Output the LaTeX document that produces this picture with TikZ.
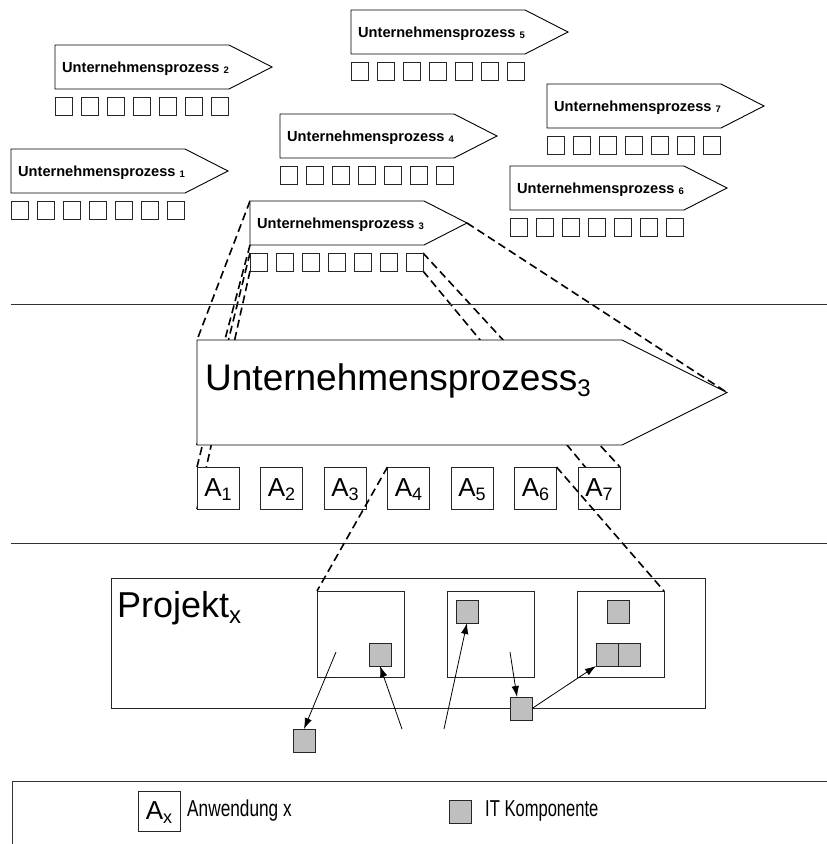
\documentclass[tikz,border=0pt]{standalone}
\usepackage{fontspec}
\setmainfont{Liberation Sans}
\usetikzlibrary{arrows.meta,calc,backgrounds}
\tikzset{
  outl/.style={draw=black, line width=0.9pt},
  sepline/.style={draw=black!80, line width=0.9pt},
  dsh/.style={draw=black, line width=1.6pt, dash pattern=on 8pt off 4.5pt},
  sq/.style={draw=black!85, line width=0.8pt, fill=white, minimum width=17pt, minimum height=18pt, inner sep=0pt, outer sep=0pt, anchor=north west},
  abox/.style={draw=black!85, line width=0.8pt, fill=white, minimum width=42pt, minimum height=42pt, inner sep=0pt, outer sep=0pt, anchor=north west, text depth=0pt},
  itc/.style={draw=black!85, line width=0.8pt, fill=black!25, minimum width=22pt, minimum height=23pt, inner sep=0pt, outer sep=0pt, anchor=north west},
  ibox/.style={draw=black!85, line width=0.8pt, fill=white, minimum width=87pt, minimum height=86pt, inner sep=0pt, outer sep=0pt, anchor=north west},
  arr/.style={-{Latex[length=11pt,width=7.5pt]}, line width=0.8pt},
  smlab/.style={font=\fontsize{14.6}{16}\selectfont\bfseries, inner sep=0pt, anchor=base west},
  txt/.style={inner sep=0pt, anchor=base west},
}
\newcommand\upro[4]{%
  \draw[outl, fill=white] (#2,#3) coordinate (#1tl) -- ++(174,0) coordinate (#1tr)
     -- ++(43,22) coordinate (#1tip) -- ++(-43,22) coordinate (#1br)
     -- ++(-174,0) coordinate (#1bl) -- cycle;
  \node[smlab] (#1lab) at (#2+7,#3+27) {Unternehmensprozess\hspace{4pt}\raisebox{-1.5pt}{\fontsize{9.5}{10}\selectfont #4}};
  \foreach \i in {0,...,6} {\node[sq] (#1s\i) at (#2+\i*26,#3+52) {};}
}
\newcommand\alab[2]{{\fontsize{26}{26}\selectfont #1}\raisebox{-4pt}[0pt][0pt]{\fontsize{18}{18}\selectfont #2}}
\begin{document}
\begin{tikzpicture}[x=1pt,y=-1pt]
\useasboundingbox (0,0) rectangle (827,844);

% small processes
\upro{P1}{11}{149}{1}
\upro{P2}{55}{45}{2}
\upro{P4}{280}{114}{4}
\upro{P5}{351}{10}{5}
\upro{P7}{547}{84}{7}
\upro{P6}{510}{166}{6}
\upro{P3}{250}{201}{3}

% separator lines
\draw[sepline] (11,304) coordinate (h1a) -- (827,304) coordinate (h1b);
\draw[sepline] (11,543) coordinate (h2a) -- (827,543) coordinate (h2b);

% big process
\draw[outl, fill=white] (197,340) coordinate (Btl) -- (622,340) coordinate (Btr)
   -- (727,392.5) coordinate (Btip) -- (622,445) coordinate (Bbr) -- (197,445) coordinate (Bbl) -- cycle;
\node[txt] (Blab) at (205,390) {\fontsize{37}{40}\selectfont Unternehmensprozess\raisebox{-6pt}{\fontsize{24}{24}\selectfont 3}};

% applications
\foreach \i in {1,...,7} {
  \node[abox] (A\i) at (197+\i*63.5-63.5,467) {\alab{A}{\i}};
}

% mapping lines (behind)
\begin{pgfonlayer}{background}
\draw[dsh] (P3tl) -- (Btl);
\draw[dsh] (P3bl) -- (Bbl);
\draw[dsh] (P3tip) -- (Btip);
\draw[dsh] (P3s0.north west) -- (A1.north west);
\draw[dsh] (P3s0.south west) -- (A1.south west);
\draw[dsh] (P3s6.north east) -- (A7.north east);
\draw[dsh] (P3s6.south east) -- (A7.south east);
\end{pgfonlayer}

% project
\node[draw=black!85, line width=0.8pt, minimum width=594pt, minimum height=130pt, inner sep=0pt, anchor=north west] (Proj) at (111,578) {};
\node[txt] (Plab) at (117,617) {\fontsize{36}{38}\selectfont Projekt\raisebox{-6pt}{\fontsize{24}{24}\selectfont x}};
\node[ibox] (I1) at (317,591) {};
\node[ibox] (I2) at (447,591) {};
\node[ibox] (I3) at (577,591) {};
\node[itc] (C1) at (369,643) {};
\node[itc] (C2) at (456,600) {};
\node[itc] (C3) at (607,600) {};
\node[itc] (C4) at (596,643) {};
\node[itc] (C5) at (618,643) {};
\node[itc] (C6) at (510,697) {};
\node[itc] (C7) at (293,729) {};

\draw[dsh] (A4.north west) -- (I1.north west);
\draw[dsh] (A6.north east) -- (I3.north east);

\coordinate (f1) at (336,652);
\coordinate (f2) at (402,729);
\coordinate (f3) at (444,729);
\coordinate (f4) at (510,652);
\draw[arr] (f1) -- (C7.north);
\draw[arr] (f2) -- (C1.south);
\draw[arr] (f3) -- (C2.south);
\draw[arr] (f4) -- ([xshift=-4pt]C6.north);
\draw[arr] (C6.east) -- (C4.south west);

% legend
\draw[sepline] (12,844) coordinate (La) -- (12,781) coordinate (Lb) -- (827,781) coordinate (Lc);
\node[abox, minimum height=40pt] (LA) at (138,791) {\alab{A}{x}};
\node[txt] (LAt) at (187,816) {\scalebox{0.75}[1]{\fontsize{23}{25}\selectfont Anwendung x}};
\node[itc] (LC) at (449,800) {};
\node[txt] (LCt) at (485,816) {\scalebox{0.72}[1]{\fontsize{23}{25}\selectfont IT Komponente}};
\end{tikzpicture}
\end{document}
